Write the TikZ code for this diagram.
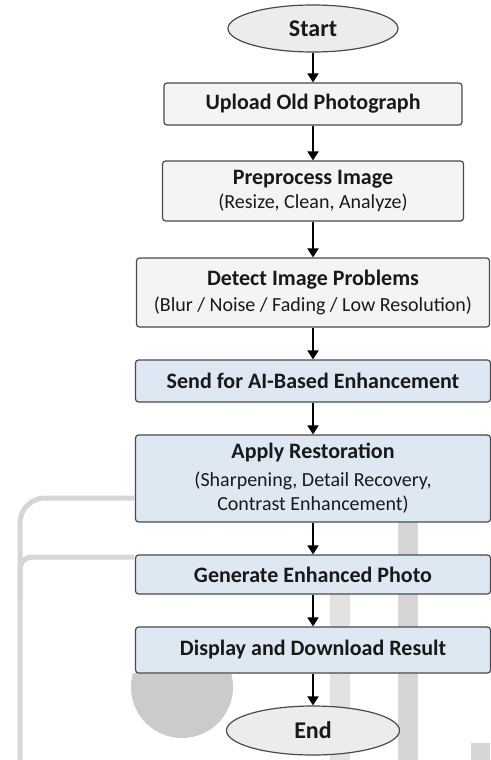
\documentclass[tikz,border=0pt]{standalone}
\usepackage{fontspec}
\setmainfont{Carlito}
\usepackage{tikz}
\usetikzlibrary{shapes.geometric}
\usetikzlibrary{arrows.meta}

\definecolor{edge}{HTML}{4A4A4A}
\definecolor{boxwhite}{HTML}{F4F4F2}
\definecolor{boxblue}{HTML}{DDE8F2}
\definecolor{termgray}{HTML}{ECECEC}
\definecolor{shadegray}{HTML}{D6D6D6}

\newcommand{\steptitle}[1]{{\fontsize{22}{26}\selectfont\bfseries #1}}

\begin{document}
\begin{tikzpicture}[x=1pt, y=-1pt,
  every node/.style={font=\fontsize{20}{24}\selectfont, text=black!90},
  plainbox/.style={draw=edge, fill=boxwhite, rounded corners=3pt, line width=1.2pt, align=center, inner sep=0pt},
  aibox/.style={plainbox, fill=boxblue},
  term/.style={ellipse, draw=edge, fill=termgray, line width=1.2pt, inner sep=0pt, font=\fontsize{24}{28}\selectfont\bfseries},
  arr/.style={-{Triangle[width=11pt,length=9pt]}, line width=2pt}]
        % Fix the page size
        \useasboundingbox (0,0) rectangle (490,760);
        % Define the centre line of the flow
        \def\cx{313}

        % Faint grey shapes in the background
        \begin{scope}[draw=shadegray, line width=5pt]
          \draw[rounded corners=25pt] (134,498) -- (20,498) -- (20,760);
          \draw[rounded corners=12pt] (134,557) -- (20,557) -- (20,600);
        \end{scope}
        \fill[shadegray] (398,522) rectangle (418,760);
        \fill[shadegray!70] (330,594) rectangle (350,760);
        \fill[shadegray] (471,743) rectangle (490,760);
        \begin{scope}
          \clip (131,673) rectangle (233,760);
          \fill[shadegray!95!black] (182,687) circle[radius=51pt];
        \end{scope}

        % Draw the steps from top to bottom
        \node[term, minimum width=170pt, minimum height=47pt] (start) at (\cx,28.5) {Start};
        \node[plainbox, minimum width=298pt, minimum height=42pt] (upload) at (\cx,104) {\steptitle{Upload Old Photograph}};
        \node[plainbox, minimum width=301pt, minimum height=60pt] (prep) at (\cx,191) {\steptitle{Preprocess Image}\\ (Resize, Clean, Analyze)};
        \node[plainbox, minimum width=353pt, minimum height=69pt] (detect) at (\cx,292.5) {\steptitle{Detect Image Problems}\\[2pt] (Blur / Noise / Fading / Low Resolution)};
        \node[aibox, minimum width=355pt, minimum height=42pt] (send) at (\cx,381) {\steptitle{Send for AI-Based Enhancement}};
        \node[aibox, minimum width=355pt, minimum height=87pt] (apply) at (\cx,478.5) {\steptitle{Apply Restoration}\\[4pt] (Sharpening, Detail Recovery,\\ Contrast Enhancement)};
        \node[aibox, minimum width=355pt, minimum height=39pt] (gen) at (\cx,574.5) {\steptitle{Generate Enhanced Photo}};
        \node[aibox, minimum width=355pt, minimum height=46pt] (disp) at (\cx,650) {\steptitle{Display and Download Result}};
        \node[term, minimum width=173pt, minimum height=49pt] (end) at (\cx,730.5) {End};

        % Connect each step to the next one
        \foreach \a/\b in {start/upload, upload/prep, prep/detect, detect/send, send/apply, apply/gen, gen/disp, disp/end}
        {
          \draw[arr] (\a) -- (\b);
        }
      \end{tikzpicture}
\end{document}
